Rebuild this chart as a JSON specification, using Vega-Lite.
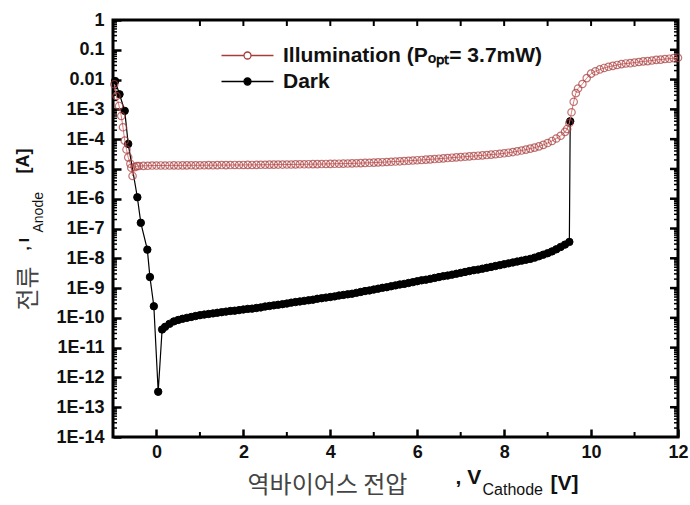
{
  "$schema": "https://vega.github.io/schema/vega-lite/v6.json",
  "width": 565,
  "height": 417,
  "autosize": {"type": "none"},
  "padding": {"left": 113, "top": 20, "right": 12, "bottom": 68},
  "background": "white",
  "config": {
    "view": {"stroke": "black", "strokeWidth": 3},
    "axis": {"labelFont": "Liberation Sans", "titleFont": "Liberation Sans", "grid": false, "domain": false}
  },
  "datasets": {
    "xmajor": [{"V":0},{"V":2},{"V":4},{"V":6},{"V":8},{"V":10}],
    "xminor": [{"V":1},{"V":3},{"V":5},{"V":7},{"V":9},{"V":11}],
    "xtop": [{"V":1},{"V":2},{"V":3},{"V":4},{"V":5},{"V":6},{"V":7},{"V":8},{"V":9},{"V":10},{"V":11}],
    "ymajor": [{"I":0.1},{"I":0.01},{"I":0.001},{"I":1e-4},{"I":1e-5},{"I":1e-6},{"I":1e-7},{"I":1e-8},{"I":1e-9},{"I":1e-10},{"I":1e-11},{"I":1e-12},{"I":1e-13}],
    "yminor": [
      {"I":2e-14},{"I":3e-14},{"I":4e-14},{"I":5e-14},{"I":6e-14},{"I":7e-14},{"I":8e-14},{"I":9e-14},
      {"I":2e-13},{"I":3e-13},{"I":4e-13},{"I":5e-13},{"I":6e-13},{"I":7e-13},{"I":8e-13},{"I":9e-13},
      {"I":2e-12},{"I":3e-12},{"I":4e-12},{"I":5e-12},{"I":6e-12},{"I":7e-12},{"I":8e-12},{"I":9e-12},
      {"I":2e-11},{"I":3e-11},{"I":4e-11},{"I":5e-11},{"I":6e-11},{"I":7e-11},{"I":8e-11},{"I":9e-11},
      {"I":2e-10},{"I":3e-10},{"I":4e-10},{"I":5e-10},{"I":6e-10},{"I":7e-10},{"I":8e-10},{"I":9e-10},
      {"I":2e-9},{"I":3e-9},{"I":4e-9},{"I":5e-9},{"I":6e-9},{"I":7e-9},{"I":8e-9},{"I":9e-9},
      {"I":2e-8},{"I":3e-8},{"I":4e-8},{"I":5e-8},{"I":6e-8},{"I":7e-8},{"I":8e-8},{"I":9e-8},
      {"I":2e-7},{"I":3e-7},{"I":4e-7},{"I":5e-7},{"I":6e-7},{"I":7e-7},{"I":8e-7},{"I":9e-7},
      {"I":2e-6},{"I":3e-6},{"I":4e-6},{"I":5e-6},{"I":6e-6},{"I":7e-6},{"I":8e-6},{"I":9e-6},
      {"I":2e-5},{"I":3e-5},{"I":4e-5},{"I":5e-5},{"I":6e-5},{"I":7e-5},{"I":8e-5},{"I":9e-5},
      {"I":2e-4},{"I":3e-4},{"I":4e-4},{"I":5e-4},{"I":6e-4},{"I":7e-4},{"I":8e-4},{"I":9e-4},
      {"I":2e-3},{"I":3e-3},{"I":4e-3},{"I":5e-3},{"I":6e-3},{"I":7e-3},{"I":8e-3},{"I":9e-3},
      {"I":2e-2},{"I":3e-2},{"I":4e-2},{"I":5e-2},{"I":6e-2},{"I":7e-2},{"I":8e-2},{"I":9e-2},
      {"I":0.2},{"I":0.3},{"I":0.4},{"I":0.5},{"I":0.6},{"I":0.7},{"I":0.8},{"I":0.9}
    ],
    "dark": [
      {"S":"Dark","V":-0.95,"I":8.9e-3},{"S":"Dark","V":-0.85,"I":3.2e-3},{"S":"Dark","V":-0.73,"I":8.9e-4},{"S":"Dark","V":-0.65,"I":6.9e-5},
      {"S":"Dark","V":-0.44,"I":1.12e-6},{"S":"Dark","V":-0.36,"I":1.55e-7},{"S":"Dark","V":-0.21,"I":1.95e-8},{"S":"Dark","V":-0.15,"I":2.34e-9},
      {"S":"Dark","V":-0.06,"I":2.45e-10},{"S":"Dark","V":0.04,"I":3.3e-13},{"S":"Dark","V":0.13,"I":4.07e-11},{"S":"Dark","V":0.2,"I":5.0e-11},
      {"S":"Dark","V":0.3,"I":6.3e-11},{"S":"Dark","V":0.4,"I":7.6e-11},{"S":"Dark","V":0.5,"I":8.5e-11},{"S":"Dark","V":0.6,"I":9.3e-11},
      {"S":"Dark","V":0.7,"I":1.0e-10},{"S":"Dark","V":0.8,"I":1.07e-10},{"S":"Dark","V":0.9,"I":1.15e-10},{"S":"Dark","V":1.0,"I":1.23e-10},
      {"S":"Dark","V":1.1,"I":1.29e-10},{"S":"Dark","V":1.2,"I":1.35e-10},{"S":"Dark","V":1.3,"I":1.41e-10},{"S":"Dark","V":1.4,"I":1.48e-10},
      {"S":"Dark","V":1.5,"I":1.55e-10},{"S":"Dark","V":1.6,"I":1.62e-10},{"S":"Dark","V":1.7,"I":1.70e-10},{"S":"Dark","V":1.8,"I":1.74e-10},
      {"S":"Dark","V":1.9,"I":1.82e-10},{"S":"Dark","V":2.0,"I":1.91e-10},{"S":"Dark","V":2.1,"I":2.0e-10},{"S":"Dark","V":2.2,"I":2.04e-10},
      {"S":"Dark","V":2.3,"I":2.14e-10},{"S":"Dark","V":2.4,"I":2.24e-10},{"S":"Dark","V":2.5,"I":2.4e-10},{"S":"Dark","V":2.6,"I":2.51e-10},
      {"S":"Dark","V":2.7,"I":2.63e-10},{"S":"Dark","V":2.8,"I":2.75e-10},{"S":"Dark","V":2.9,"I":2.88e-10},{"S":"Dark","V":3.0,"I":3.02e-10},
      {"S":"Dark","V":3.1,"I":3.24e-10},{"S":"Dark","V":3.2,"I":3.39e-10},{"S":"Dark","V":3.3,"I":3.55e-10},{"S":"Dark","V":3.4,"I":3.72e-10},
      {"S":"Dark","V":3.5,"I":3.89e-10},{"S":"Dark","V":3.6,"I":4.07e-10},{"S":"Dark","V":3.7,"I":4.37e-10},{"S":"Dark","V":3.8,"I":4.57e-10},
      {"S":"Dark","V":3.9,"I":4.79e-10},{"S":"Dark","V":4.0,"I":5.01e-10},{"S":"Dark","V":4.1,"I":5.25e-10},{"S":"Dark","V":4.2,"I":5.62e-10},
      {"S":"Dark","V":4.3,"I":5.89e-10},{"S":"Dark","V":4.4,"I":6.17e-10},{"S":"Dark","V":4.5,"I":6.46e-10},{"S":"Dark","V":4.6,"I":6.92e-10},
      {"S":"Dark","V":4.7,"I":7.41e-10},{"S":"Dark","V":4.8,"I":7.94e-10},{"S":"Dark","V":4.9,"I":8.32e-10},{"S":"Dark","V":5.0,"I":8.91e-10},
      {"S":"Dark","V":5.1,"I":9.55e-10},{"S":"Dark","V":5.2,"I":1.02e-9},{"S":"Dark","V":5.3,"I":1.07e-9},{"S":"Dark","V":5.4,"I":1.15e-9},
      {"S":"Dark","V":5.5,"I":1.23e-9},{"S":"Dark","V":5.6,"I":1.32e-9},{"S":"Dark","V":5.7,"I":1.38e-9},{"S":"Dark","V":5.8,"I":1.48e-9},
      {"S":"Dark","V":5.9,"I":1.58e-9},{"S":"Dark","V":6.0,"I":1.70e-9},{"S":"Dark","V":6.1,"I":1.82e-9},{"S":"Dark","V":6.2,"I":1.91e-9},
      {"S":"Dark","V":6.3,"I":2.04e-9},{"S":"Dark","V":6.4,"I":2.19e-9},{"S":"Dark","V":6.5,"I":2.34e-9},{"S":"Dark","V":6.6,"I":2.51e-9},
      {"S":"Dark","V":6.7,"I":2.63e-9},{"S":"Dark","V":6.8,"I":2.82e-9},{"S":"Dark","V":6.9,"I":3.02e-9},{"S":"Dark","V":7.0,"I":3.24e-9},
      {"S":"Dark","V":7.1,"I":3.47e-9},{"S":"Dark","V":7.2,"I":3.72e-9},{"S":"Dark","V":7.3,"I":3.98e-9},{"S":"Dark","V":7.4,"I":4.17e-9},
      {"S":"Dark","V":7.5,"I":4.47e-9},{"S":"Dark","V":7.6,"I":4.79e-9},{"S":"Dark","V":7.7,"I":5.13e-9},{"S":"Dark","V":7.8,"I":5.50e-9},
      {"S":"Dark","V":7.9,"I":5.89e-9},{"S":"Dark","V":8.0,"I":6.31e-9},{"S":"Dark","V":8.1,"I":6.76e-9},{"S":"Dark","V":8.2,"I":7.24e-9},
      {"S":"Dark","V":8.3,"I":7.76e-9},{"S":"Dark","V":8.4,"I":8.32e-9},{"S":"Dark","V":8.5,"I":8.91e-9},{"S":"Dark","V":8.6,"I":9.55e-9},
      {"S":"Dark","V":8.7,"I":1.05e-8},{"S":"Dark","V":8.8,"I":1.17e-8},{"S":"Dark","V":8.9,"I":1.32e-8},{"S":"Dark","V":9.0,"I":1.48e-8},
      {"S":"Dark","V":9.1,"I":1.70e-8},{"S":"Dark","V":9.2,"I":2.0e-8},{"S":"Dark","V":9.3,"I":2.4e-8},{"S":"Dark","V":9.4,"I":2.88e-8},
      {"S":"Dark","V":9.5,"I":3.55e-8},{"S":"Dark","V":9.52,"I":3.98e-4}
    ],
    "illum": [
      {"S":"Illumination","V":-0.97,"I":7.0e-3},{"S":"Illumination","V":-0.92,"I":2.8e-3},{"S":"Illumination","V":-0.86,"I":1.3e-3},
      {"S":"Illumination","V":-0.81,"I":6.0e-4},{"S":"Illumination","V":-0.77,"I":2.5e-4},{"S":"Illumination","V":-0.73,"I":8.9e-5},
      {"S":"Illumination","V":-0.69,"I":4.5e-5},{"S":"Illumination","V":-0.65,"I":2.45e-5},{"S":"Illumination","V":-0.6,"I":1.5e-5},
      {"S":"Illumination","V":-0.58,"I":1.1e-5},{"S":"Illumination","V":-0.55,"I":5.8e-6},{"S":"Illumination","V":-0.5,"I":1.15e-5},
      {"S":"Illumination","V":-0.45,"I":1.24e-5},{"S":"Illumination","V":-0.4,"I":1.25e-5},{"S":"Illumination","V":-0.3,"I":1.27e-5},
      {"S":"Illumination","V":-0.2,"I":1.28e-5},{"S":"Illumination","V":-0.1,"I":1.3e-5},{"S":"Illumination","V":0.0,"I":1.3e-5},
      {"S":"Illumination","V":0.1,"I":1.31e-5},{"S":"Illumination","V":0.2,"I":1.3e-5},{"S":"Illumination","V":0.3,"I":1.31e-5},
      {"S":"Illumination","V":0.4,"I":1.32e-5},{"S":"Illumination","V":0.5,"I":1.31e-5},{"S":"Illumination","V":0.6,"I":1.32e-5},
      {"S":"Illumination","V":0.7,"I":1.32e-5},{"S":"Illumination","V":0.8,"I":1.33e-5},{"S":"Illumination","V":0.9,"I":1.32e-5},
      {"S":"Illumination","V":1.0,"I":1.33e-5},{"S":"Illumination","V":1.1,"I":1.33e-5},{"S":"Illumination","V":1.2,"I":1.34e-5},
      {"S":"Illumination","V":1.3,"I":1.33e-5},{"S":"Illumination","V":1.4,"I":1.34e-5},{"S":"Illumination","V":1.5,"I":1.35e-5},
      {"S":"Illumination","V":1.6,"I":1.34e-5},{"S":"Illumination","V":1.7,"I":1.35e-5},{"S":"Illumination","V":1.8,"I":1.36e-5},
      {"S":"Illumination","V":1.9,"I":1.35e-5},{"S":"Illumination","V":2.0,"I":1.36e-5},{"S":"Illumination","V":2.1,"I":1.37e-5},
      {"S":"Illumination","V":2.2,"I":1.36e-5},{"S":"Illumination","V":2.3,"I":1.37e-5},{"S":"Illumination","V":2.4,"I":1.38e-5},
      {"S":"Illumination","V":2.5,"I":1.38e-5},{"S":"Illumination","V":2.6,"I":1.39e-5},{"S":"Illumination","V":2.7,"I":1.39e-5},
      {"S":"Illumination","V":2.8,"I":1.40e-5},{"S":"Illumination","V":2.9,"I":1.40e-5},{"S":"Illumination","V":3.0,"I":1.41e-5},
      {"S":"Illumination","V":3.1,"I":1.41e-5},{"S":"Illumination","V":3.2,"I":1.42e-5},{"S":"Illumination","V":3.3,"I":1.43e-5},
      {"S":"Illumination","V":3.4,"I":1.43e-5},{"S":"Illumination","V":3.5,"I":1.44e-5},{"S":"Illumination","V":3.6,"I":1.45e-5},
      {"S":"Illumination","V":3.7,"I":1.45e-5},{"S":"Illumination","V":3.8,"I":1.46e-5},{"S":"Illumination","V":3.9,"I":1.47e-5},
      {"S":"Illumination","V":4.0,"I":1.48e-5},{"S":"Illumination","V":4.1,"I":1.49e-5},{"S":"Illumination","V":4.2,"I":1.50e-5},
      {"S":"Illumination","V":4.3,"I":1.51e-5},{"S":"Illumination","V":4.4,"I":1.52e-5},{"S":"Illumination","V":4.5,"I":1.54e-5},
      {"S":"Illumination","V":4.6,"I":1.55e-5},{"S":"Illumination","V":4.7,"I":1.57e-5},{"S":"Illumination","V":4.8,"I":1.59e-5},
      {"S":"Illumination","V":4.9,"I":1.61e-5},{"S":"Illumination","V":5.0,"I":1.63e-5},{"S":"Illumination","V":5.1,"I":1.66e-5},
      {"S":"Illumination","V":5.2,"I":1.68e-5},{"S":"Illumination","V":5.3,"I":1.71e-5},{"S":"Illumination","V":5.4,"I":1.74e-5},
      {"S":"Illumination","V":5.5,"I":1.77e-5},{"S":"Illumination","V":5.6,"I":1.80e-5},{"S":"Illumination","V":5.7,"I":1.84e-5},
      {"S":"Illumination","V":5.8,"I":1.88e-5},{"S":"Illumination","V":5.9,"I":1.92e-5},{"S":"Illumination","V":6.0,"I":1.96e-5},
      {"S":"Illumination","V":6.1,"I":2.0e-5},{"S":"Illumination","V":6.2,"I":2.05e-5},{"S":"Illumination","V":6.3,"I":2.1e-5},
      {"S":"Illumination","V":6.4,"I":2.15e-5},{"S":"Illumination","V":6.5,"I":2.2e-5},{"S":"Illumination","V":6.6,"I":2.26e-5},
      {"S":"Illumination","V":6.7,"I":2.32e-5},{"S":"Illumination","V":6.8,"I":2.38e-5},{"S":"Illumination","V":6.9,"I":2.44e-5},
      {"S":"Illumination","V":7.0,"I":2.5e-5},{"S":"Illumination","V":7.1,"I":2.57e-5},{"S":"Illumination","V":7.2,"I":2.64e-5},
      {"S":"Illumination","V":7.3,"I":2.71e-5},{"S":"Illumination","V":7.4,"I":2.78e-5},{"S":"Illumination","V":7.5,"I":2.85e-5},
      {"S":"Illumination","V":7.6,"I":2.93e-5},{"S":"Illumination","V":7.7,"I":3.02e-5},{"S":"Illumination","V":7.8,"I":3.12e-5},
      {"S":"Illumination","V":7.9,"I":3.22e-5},{"S":"Illumination","V":8.0,"I":3.35e-5},{"S":"Illumination","V":8.1,"I":3.5e-5},
      {"S":"Illumination","V":8.2,"I":3.68e-5},{"S":"Illumination","V":8.3,"I":3.9e-5},{"S":"Illumination","V":8.4,"I":4.15e-5},
      {"S":"Illumination","V":8.5,"I":4.45e-5},{"S":"Illumination","V":8.6,"I":4.8e-5},{"S":"Illumination","V":8.7,"I":5.2e-5},
      {"S":"Illumination","V":8.8,"I":5.7e-5},{"S":"Illumination","V":8.9,"I":6.4e-5},{"S":"Illumination","V":9.0,"I":7.4e-5},
      {"S":"Illumination","V":9.1,"I":8.7e-5},{"S":"Illumination","V":9.2,"I":1.05e-4},{"S":"Illumination","V":9.3,"I":1.3e-4},
      {"S":"Illumination","V":9.4,"I":1.75e-4},{"S":"Illumination","V":9.45,"I":2.2e-4},{"S":"Illumination","V":9.5,"I":3.5e-4},
      {"S":"Illumination","V":9.55,"I":8.0e-4},{"S":"Illumination","V":9.6,"I":1.8e-3},{"S":"Illumination","V":9.65,"I":3.5e-3},
      {"S":"Illumination","V":9.7,"I":5.0e-3},{"S":"Illumination","V":9.8,"I":7.1e-3},{"S":"Illumination","V":9.9,"I":1.12e-2},
      {"S":"Illumination","V":10.0,"I":1.58e-2},{"S":"Illumination","V":10.1,"I":1.9e-2},{"S":"Illumination","V":10.2,"I":2.19e-2},
      {"S":"Illumination","V":10.3,"I":2.45e-2},{"S":"Illumination","V":10.4,"I":2.69e-2},{"S":"Illumination","V":10.5,"I":2.88e-2},
      {"S":"Illumination","V":10.6,"I":3.09e-2},{"S":"Illumination","V":10.7,"I":3.31e-2},{"S":"Illumination","V":10.8,"I":3.47e-2},
      {"S":"Illumination","V":10.9,"I":3.55e-2},{"S":"Illumination","V":11.0,"I":3.72e-2},{"S":"Illumination","V":11.1,"I":3.89e-2},
      {"S":"Illumination","V":11.2,"I":4.07e-2},{"S":"Illumination","V":11.3,"I":4.17e-2},{"S":"Illumination","V":11.4,"I":4.37e-2},
      {"S":"Illumination","V":11.5,"I":4.57e-2},{"S":"Illumination","V":11.6,"I":4.68e-2},{"S":"Illumination","V":11.7,"I":4.9e-2},
      {"S":"Illumination","V":11.8,"I":5.01e-2},{"S":"Illumination","V":11.9,"I":5.25e-2},{"S":"Illumination","V":12.0,"I":5.37e-2}
    ]
  },
  "data": {"name": "dark"},
  "resolve": {"axis": {"x": "independent", "y": "independent"}},
  "layer": [
    {
      "mark": {"type": "line", "color": "black", "strokeWidth": 1.2},
      "encoding": {
        "x": {"field": "V", "type": "quantitative", "scale": {"domain": [-1, 12], "nice": false, "zero": false},
          "axis": {"orient": "bottom", "values": [0, 2, 4, 6, 8, 10, 12], "ticks": true, "tickSize": 8, "tickWidth": 2.5, "tickColor": "black", "offset": -8,
            "labelFontSize": 18, "labelFontWeight": "bold", "labelColor": "#111", "labelPadding": 6, "labelFlush": false, "labelOverlap": false,
            "title": "역바이어스 전압", "titleFont": "Noto Sans CJK KR", "titleFontSize": 24, "titleFontWeight": "normal", "titleColor": "#444",
            "titleX": 134, "titleY": 63, "titleAlign": "left", "titleBaseline": "alphabetic"}},
        "y": {"field": "I", "type": "quantitative", "scale": {"type": "log", "domain": [1e-14, 1], "nice": false},
          "axis": {"orient": "left", "values": [1, 0.1, 0.01, 0.001, 0.0001, 1e-5, 1e-6, 1e-7, 1e-8, 1e-9, 1e-10, 1e-11, 1e-12, 1e-13, 1e-14],
            "labelExpr": "datum.value >= 0.9 ? '1' : datum.value >= 0.09 ? '0.1' : datum.value >= 0.009 ? '0.01' : '1E-' + round(-log(datum.value)/LN10)",
            "ticks": true, "tickSize": 8, "tickWidth": 2.5, "tickColor": "black", "offset": -8,
            "labelFontSize": 18, "labelFontWeight": "bold", "labelColor": "#111",
            "labelPadding": 9, "labelFlush": false, "labelOverlap": false,
            "title": "전류", "titleFont": "Noto Sans CJK KR", "titleFontSize": 24, "titleFontWeight": "normal", "titleColor": "#444",
            "titleAngle": 270, "titleX": -86, "titleY": 290, "titleAlign": "left", "titleBaseline": "alphabetic"}}
      }
    },
    {
      "data": {"name": "xminor"},
      "mark": {"type": "rule", "color": "black", "strokeWidth": 2},
      "encoding": {
        "x": {"field": "V", "type": "quantitative", "scale": {"domain": [-1, 12], "nice": false, "zero": false}, "axis": null},
        "y": {"datum": 1e-14, "type": "quantitative", "scale": {"type": "log", "domain": [1e-14, 1], "nice": false}, "axis": null},
        "y2": {"datum": 1.47e-14}
      }
    },
    {
      "data": {"name": "xtop"},
      "mark": {"type": "rule", "color": "black", "strokeWidth": 2},
      "encoding": {
        "x": {"field": "V", "type": "quantitative", "scale": {"domain": [-1, 12], "nice": false, "zero": false}, "axis": null},
        "y": {"datum": 1, "type": "quantitative", "scale": {"type": "log", "domain": [1e-14, 1], "nice": false}, "axis": null},
        "y2": {"datum": 0.63}
      }
    },
    {
      "data": {"name": "yminor"},
      "mark": {"type": "rule", "color": "black", "strokeWidth": 1.5},
      "encoding": {
        "y": {"field": "I", "type": "quantitative", "scale": {"type": "log", "domain": [1e-14, 1], "nice": false}, "axis": null},
        "x": {"datum": -1, "type": "quantitative", "scale": {"domain": [-1, 12], "nice": false, "zero": false}, "axis": null},
        "x2": {"datum": -0.908}
      }
    },
    {
      "data": {"name": "ymajor"},
      "mark": {"type": "rule", "color": "black", "strokeWidth": 2.5},
      "encoding": {
        "y": {"field": "I", "type": "quantitative", "scale": {"type": "log", "domain": [1e-14, 1], "nice": false}, "axis": null},
        "x": {"datum": 12, "type": "quantitative", "scale": {"domain": [-1, 12], "nice": false, "zero": false}, "axis": null},
        "x2": {"datum": 11.816}
      }
    },
    {
      "data": {"name": "yminor"},
      "mark": {"type": "rule", "color": "black", "strokeWidth": 1.5},
      "encoding": {
        "y": {"field": "I", "type": "quantitative", "scale": {"type": "log", "domain": [1e-14, 1], "nice": false}, "axis": null},
        "x": {"datum": 12, "type": "quantitative", "scale": {"domain": [-1, 12], "nice": false, "zero": false}, "axis": null},
        "x2": {"datum": 11.908}
      }
    },
    {
      "mark": {"type": "point", "filled": true, "size": 55, "strokeWidth": 1, "opacity": 1},
      "encoding": {
        "x": {"field": "V", "type": "quantitative", "scale": {"domain": [-1, 12], "nice": false, "zero": false},
          "axis": {"orient": "bottom", "labels": false, "ticks": false, "values": [0],
            "title": ", V", "titleFontSize": 21, "titleFontWeight": "bold", "titleColor": "#111",
            "titleX": 342, "titleY": 46, "titleAlign": "left", "titleBaseline": "alphabetic"}},
        "y": {"field": "I", "type": "quantitative", "scale": {"type": "log", "domain": [1e-14, 1], "nice": false},
          "axis": {"orient": "left", "labels": false, "ticks": false, "values": [1e-5],
            "title": ", I", "titleFontSize": 15, "titleFontWeight": "bold", "titleColor": "#111",
            "titleAngle": 270, "titleX": -85, "titleY": 230, "titleAlign": "left", "titleBaseline": "alphabetic"}},
        "fill": {"field": "S", "type": "nominal", "scale": {"domain": ["Illumination", "Dark"], "range": ["transparent", "black"]},
          "legend": {"orient": "none", "legendX": 124, "legendY": 25, "title": null, "direction": "vertical", "padding": 0,
            "symbolType": "M-3.714,0H-0.5M0.5,0H3.714M0.5,0A0.5,0.5,0,1,1,-0.5,0A0.5,0.5,0,1,1,0.5,0",
            "symbolSize": 196, "symbolStrokeWidth": 1.3, "labelFont": "Liberation Sans", "labelFontSize": 21, "labelFontWeight": "bold",
            "labelColor": "#111", "labelOffset": 25, "rowPadding": 4, "labelLimit": 400,
            "labelExpr": "datum.label == 'Illumination' ? 'Illumination (Pₒₚₜ= 3.7mW)' : datum.label"}},
        "stroke": {"field": "S", "type": "nominal", "scale": {"domain": ["Illumination", "Dark"], "range": ["#a83c3c", "black"]},
          "legend": {"orient": "none", "legendX": 124, "legendY": 25, "title": null, "direction": "vertical", "padding": 0,
            "symbolType": "M-3.714,0H-0.5M0.5,0H3.714M0.5,0A0.5,0.5,0,1,1,-0.5,0A0.5,0.5,0,1,1,0.5,0",
            "symbolSize": 196, "symbolStrokeWidth": 1.3, "labelFont": "Liberation Sans", "labelFontSize": 21, "labelFontWeight": "bold",
            "labelColor": "#111", "labelOffset": 25, "rowPadding": 4, "labelLimit": 400,
            "labelExpr": "datum.label == 'Illumination' ? 'Illumination (Pₒₚₜ= 3.7mW)' : datum.label"}}
      }
    },
    {
      "data": {"name": "illum"},
      "mark": {"type": "line", "color": "#e07a7a", "strokeWidth": 1},
      "encoding": {
        "x": {"field": "V", "type": "quantitative", "scale": {"domain": [-1, 12], "nice": false, "zero": false},
          "axis": {"orient": "bottom", "labels": false, "ticks": false, "values": [0], "title": "[V]", "titleFontSize": 21, "titleFontWeight": "bold", "titleColor": "#111",
            "titleX": 437, "titleY": 52, "titleAlign": "left", "titleBaseline": "alphabetic"}},
        "y": {"field": "I", "type": "quantitative", "scale": {"type": "log", "domain": [1e-14, 1], "nice": false},
          "axis": {"orient": "left", "labels": false, "ticks": false, "values": [1e-5], "title": "[A]", "titleFontSize": 18, "titleFontWeight": "bold", "titleColor": "#111",
            "titleAngle": 270, "titleX": -85, "titleY": 153, "titleAlign": "left", "titleBaseline": "alphabetic"}}
      }
    },
    {
      "data": {"name": "illum"},
      "mark": {"type": "point", "filled": true, "size": 55, "strokeWidth": 1.2},
      "encoding": {
        "x": {"field": "V", "type": "quantitative", "scale": {"domain": [-1, 12], "nice": false, "zero": false},
          "axis": {"orient": "bottom", "labels": false, "ticks": false, "values": [0], "title": "Cathode", "titleFontSize": 16, "titleFontWeight": "normal", "titleColor": "#111",
            "titleX": 369, "titleY": 57, "titleAlign": "left", "titleBaseline": "alphabetic"}},
        "y": {"field": "I", "type": "quantitative", "scale": {"type": "log", "domain": [1e-14, 1], "nice": false},
          "axis": {"orient": "left", "labels": false, "ticks": false, "values": [1e-5], "title": "Anode", "titleFontSize": 14, "titleFontWeight": "normal", "titleColor": "#111",
            "titleAngle": 270, "titleX": -71, "titleY": 212, "titleAlign": "left", "titleBaseline": "alphabetic"}},
        "fill": {"field": "S", "type": "nominal", "scale": {"domain": ["Illumination", "Dark"], "range": ["transparent", "black"]},
          "legend": {"orient": "none", "legendX": 124, "legendY": 25, "title": null, "direction": "vertical", "padding": 0,
            "symbolType": "M-3.714,0H-0.5M0.5,0H3.714M0.5,0A0.5,0.5,0,1,1,-0.5,0A0.5,0.5,0,1,1,0.5,0",
            "symbolSize": 196, "symbolStrokeWidth": 1.3, "labelFont": "Liberation Sans", "labelFontSize": 21, "labelFontWeight": "bold",
            "labelColor": "#111", "labelOffset": 25, "rowPadding": 4, "labelLimit": 400,
            "labelExpr": "datum.label == 'Illumination' ? 'Illumination (Pₒₚₜ= 3.7mW)' : datum.label"}},
        "stroke": {"field": "S", "type": "nominal", "scale": {"domain": ["Illumination", "Dark"], "range": ["#a83c3c", "black"]},
          "legend": {"orient": "none", "legendX": 124, "legendY": 25, "title": null, "direction": "vertical", "padding": 0,
            "symbolType": "M-3.714,0H-0.5M0.5,0H3.714M0.5,0A0.5,0.5,0,1,1,-0.5,0A0.5,0.5,0,1,1,0.5,0",
            "symbolSize": 196, "symbolStrokeWidth": 1.3, "labelFont": "Liberation Sans", "labelFontSize": 21, "labelFontWeight": "bold",
            "labelColor": "#111", "labelOffset": 25, "rowPadding": 4, "labelLimit": 400,
            "labelExpr": "datum.label == 'Illumination' ? 'Illumination (Pₒₚₜ= 3.7mW)' : datum.label"}}
      }
    }
  ]
}
